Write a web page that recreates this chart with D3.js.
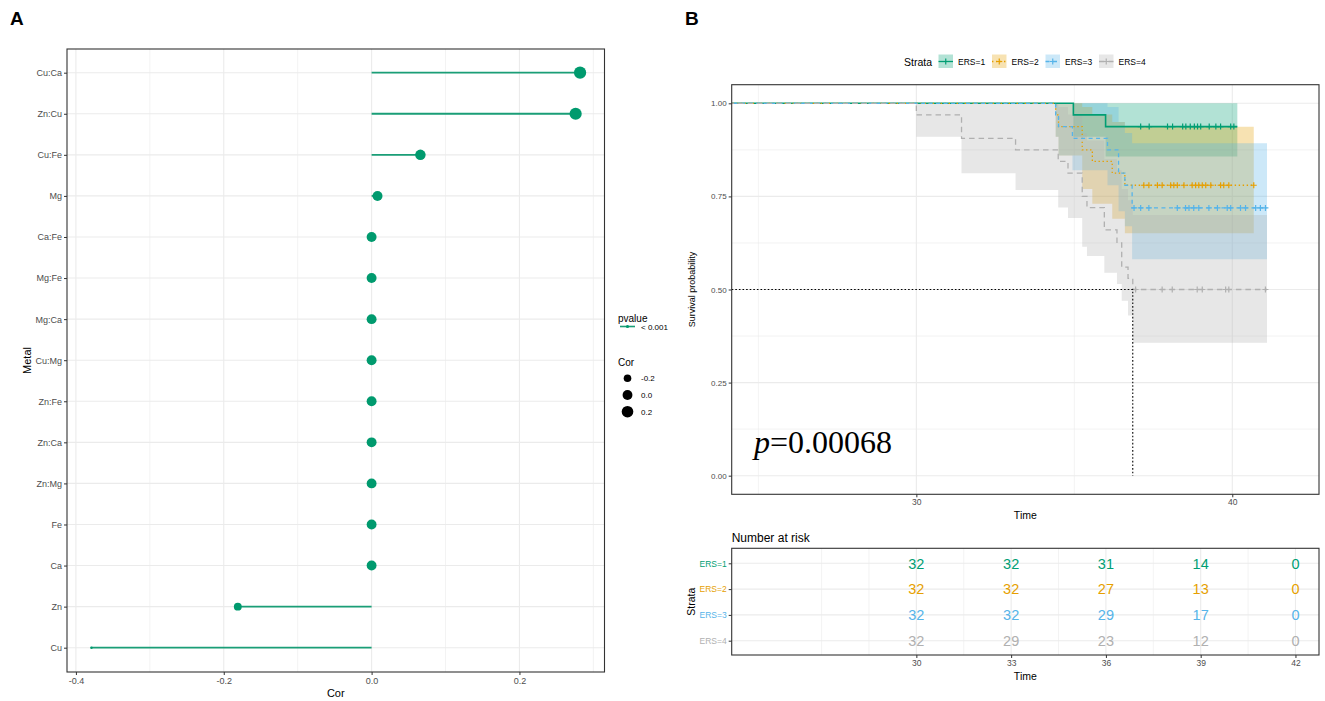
<!DOCTYPE html>
<html>
<head>
<meta charset="utf-8">
<script src="https://cdn.jsdelivr.net/npm/d3@7"></script>
<style>
  body { margin: 0; background: #fff; }
  svg { font-family: "Liberation Sans", Arial, sans-serif; }
</style>
</head>
<body>
<div id="chart"></div>
<script>
// Panel A: correlation lollipop
var metals = ["Cu:Ca", "Zn:Cu", "Cu:Fe", "Mg", "Ca:Fe", "Mg:Fe", "Mg:Ca", "Cu:Mg",
  "Zn:Fe", "Zn:Ca", "Zn:Mg", "Fe", "Ca", "Zn", "Cu"];
var corValues = [0.282, 0.276, 0.066, 0.008, 0, 0, 0, 0, 0, 0, 0, 0, 0, -0.181, -0.379];
var corTicks = [-0.4, -0.2, 0.0, 0.2];
var corMinor = [-0.3, -0.1, 0.1, 0.3];
var sizeBreaks = [-0.2, 0.0, 0.2];

// Panel B: Kaplan-Meier curves per stratum
var strata = ["ERS=1", "ERS=2", "ERS=3", "ERS=4"];
var strataColors = ["#009E73", "#E69F00", "#56B4E9", "#B0B0B0"];
var strataDash = [null, "1.4,2.6", "4,3.5", "5.5,4"];

var ers1Time = [0, 34.97, 35.99];
var ers1Surv = [1, 0.969, 0.9375];
var ers1Lower = [1, 0.91, 0.857];
var ers1Upper = [1, 1, 1];
var ers1Censor = [37.10, 37.37, 37.95, 38.11, 38.43, 38.53, 38.67, 38.80, 38.90, 39.0,
  39.27, 39.48, 39.63, 39.95, 40.05];

var ers2Time = [0, 34.41, 34.5, 35.25, 35.57, 36.2, 36.6];
var ers2Surv = [1, 0.969, 0.9375, 0.875, 0.844, 0.8125, 0.78];
var ers2Lower = [1, 0.91, 0.86, 0.77, 0.73, 0.69, 0.651];
var ers2Upper = [1, 1, 1, 0.99, 0.97, 0.95, 0.937];
var ers2Censor = [37.20, 37.36, 37.63, 37.78, 38.05, 38.15, 38.26, 38.47, 38.73, 38.84,
  38.94, 39.05, 39.16, 39.32, 39.63, 39.73, 39.89, 40.68];

var ers3Time = [0, 34.41, 34.5, 34.94, 36.05, 36.4, 36.6, 36.83];
var ers3Surv = [1, 0.969, 0.9375, 0.906, 0.875, 0.8125, 0.78, 0.719];
var ers3Lower = [1, 0.91, 0.86, 0.82, 0.78, 0.71, 0.67, 0.581];
var ers3Upper = [1, 1, 1, 1, 0.99, 0.95, 0.92, 0.893];
var ers3Censor = [36.89, 37.10, 37.36, 38.26, 38.52, 38.63, 38.78, 38.94, 39.26, 39.53,
  39.84, 39.95, 40.26, 40.42, 40.74, 40.89, 41.05];

var ers4Time = [0, 30.0, 31.43, 33.14, 34.49, 34.8, 35.25, 35.4, 35.95, 36.35, 36.5, 36.7, 36.85];
var ers4Surv = [1, 0.969, 0.906, 0.875, 0.844, 0.8125, 0.75, 0.72, 0.66, 0.625, 0.56, 0.53, 0.5];
var ers4Lower = [1, 0.91, 0.812, 0.767, 0.72, 0.692, 0.615, 0.59, 0.545, 0.515, 0.47, 0.43, 0.357];
var ers4Upper = [1, 1, 1, 1, 0.99, 0.97, 0.92, 0.9, 0.85, 0.82, 0.77, 0.74, 0.70];
var ers4Censor = [36.94, 37.78, 38.1, 38.89, 39.05, 39.79, 39.89, 41.05];

var curveEnds = [40.16, 40.68, 41.1, 41.1];
var timeRange = [25, 41.9];
var medianTime = 36.85;
var survTicks = [0, 0.25, 0.5, 0.75, 1];
var survMinor = [0.125, 0.375, 0.625, 0.875];
var timeTicks = [30, 40];
var timeMinor = [25, 35];

// Number at risk table
var riskTimes = [30, 33, 36, 39, 42];
var riskMinor = [27, 28.5, 31.5, 34.5, 37.5, 40.5];
var risk1 = [32, 32, 31, 14, 0];
var risk2 = [32, 32, 27, 13, 0];
var risk3 = [32, 32, 29, 17, 0];
var risk4 = [32, 29, 23, 12, 0];
var pText = "0.00068";

var GRID = "#EBEBEB";
var BORDER = "#333333";
var TICKTEXT = "#4D4D4D";

var svg = d3.select("#chart").append("svg")
  .attr("width", 1325).attr("height", 701);

var hyphen = function(f) {
  return function(d) { return f(d).replace("\u2212", "-"); };
};

var styleAxis = function(g, fontSize) {
  g.select(".domain").remove();
  g.selectAll(".tick line").attr("stroke", BORDER);
  g.selectAll(".tick text").attr("fill", TICKTEXT).style("font-size", fontSize + "px");
};

var expand = function(ext, f) {
  var r = ext[1] - ext[0];
  return [ext[0] - r * f, ext[1] + r * f];
};

// ---------------- Panel A ----------------
var A = { left: 67, top: 49, right: 604.5, bottom: 672 };

svg.append("text").attr("x", 10).attr("y", 25)
  .style("font-size", "19px").style("font-weight", "bold").text("A");

var xA = d3.scaleLinear()
  .domain(expand(d3.extent(corValues), 0.05))
  .range([A.left, A.right]);

var yA = d3.scalePoint()
  .domain(metals)
  .range([A.top + 23.7, A.bottom - 24.3]);

var sizeT = d3.scaleLinear().domain(d3.extent(corValues)).range([0, 1]).clamp(true);
var sizeMM = d3.scaleLinear().domain([0, 1]).range([1, 6]);
var pointRadius = function(v) {
  var s = sizeMM(Math.sqrt(sizeT(v)));
  return (s * 2.845 + 0.945) * 0.68 / 2;
};

var gA = svg.append("g");

gA.append("g").selectAll("line").data(corMinor.filter(function(d) {
    return xA(d) > A.left && xA(d) < A.right;
  })).enter().append("line")
  .attr("x1", function(d) { return xA(d); }).attr("x2", function(d) { return xA(d); })
  .attr("y1", A.top).attr("y2", A.bottom)
  .attr("stroke", GRID).attr("stroke-width", 0.6);

gA.append("g").selectAll("line").data(corTicks).enter().append("line")
  .attr("x1", function(d) { return xA(d); }).attr("x2", function(d) { return xA(d); })
  .attr("y1", A.top).attr("y2", A.bottom)
  .attr("stroke", GRID).attr("stroke-width", 1.1);

gA.append("g").selectAll("line").data(metals).enter().append("line")
  .attr("x1", A.left).attr("x2", A.right)
  .attr("y1", function(d) { return yA(d); }).attr("y2", function(d) { return yA(d); })
  .attr("stroke", GRID).attr("stroke-width", 1.1);

// segments
gA.append("g").selectAll("line").data(metals).enter().append("line")
  .attr("x1", xA(0))
  .attr("x2", function(d, i) { return xA(corValues[i]); })
  .attr("y1", function(d) { return yA(d); })
  .attr("y2", function(d) { return yA(d); })
  .attr("stroke", "#1A9E77").attr("stroke-width", 1.8);

// points
gA.append("g").selectAll("circle").data(metals).enter().append("circle")
  .attr("cx", function(d, i) { return xA(corValues[i]); })
  .attr("cy", function(d) { return yA(d); })
  .attr("r", function(d, i) { return pointRadius(corValues[i]); })
  .attr("fill", "#009A6E");

gA.append("rect")
  .attr("x", A.left).attr("y", A.top)
  .attr("width", A.right - A.left).attr("height", A.bottom - A.top)
  .attr("fill", "none").attr("stroke", BORDER).attr("stroke-width", 1.1);

gA.append("g").attr("transform", "translate(" + A.left + ",0)")
  .call(d3.axisLeft(yA).tickSize(3).tickPadding(2))
  .call(styleAxis, 9);

gA.append("g").attr("transform", "translate(0," + A.bottom + ")")
  .call(d3.axisBottom(xA).tickValues(corTicks).tickSize(3).tickPadding(3)
    .tickFormat(hyphen(d3.format(".1f"))))
  .call(styleAxis, 9);

gA.append("text")
  .attr("transform", "translate(31," + (A.top + A.bottom) / 2 + ") rotate(-90)")
  .attr("text-anchor", "middle").style("font-size", "11px").text("Metal");

gA.append("text")
  .attr("x", (A.left + A.right) / 2).attr("y", 697)
  .attr("text-anchor", "middle").style("font-size", "11px").text("Cor");

// legends A
var legA = svg.append("g");
legA.append("text").attr("x", 618).attr("y", 322).style("font-size", "10px").text("pvalue");
legA.append("line").attr("x1", 620).attr("x2", 635).attr("y1", 326.5).attr("y2", 326.5)
  .attr("stroke", "#1A9E77").attr("stroke-width", 1.6);
legA.append("circle").attr("cx", 627.5).attr("cy", 326.5).attr("r", 1.6).attr("fill", "#009A6E");
legA.append("text").attr("x", 641).attr("y", 329.5).style("font-size", "8px").text("< 0.001");

legA.append("text").attr("x", 618).attr("y", 366).style("font-size", "10px").text("Cor");
legA.selectAll(".sz").data(sizeBreaks).enter().append("circle")
  .attr("cx", 627.5)
  .attr("cy", function(d, i) { return 378.3 + i * 16.7; })
  .attr("r", function(d) { return pointRadius(d); })
  .attr("fill", "#000");
legA.selectAll(".szl").data(sizeBreaks).enter().append("text")
  .attr("x", 641)
  .attr("y", function(d, i) { return 381.3 + i * 16.7; })
  .style("font-size", "8px")
  .text(hyphen(d3.format(".1f")));

// ---------------- Panel B ----------------
var B = { left: 731.7, top: 84.7, right: 1319, bottom: 494.3 };

svg.append("text").attr("x", 685).attr("y", 25)
  .style("font-size", "19px").style("font-weight", "bold").text("B");

var xB = d3.scaleLinear().domain(expand(timeRange, 0.05)).range([B.left, B.right]);
var yB = d3.scaleLinear().domain([-0.05, 1.05]).range([B.bottom, B.top]);

var gB = svg.append("g");

svg.append("clipPath").attr("id", "clipB").append("rect")
  .attr("x", B.left).attr("y", B.top)
  .attr("width", B.right - B.left).attr("height", B.bottom - B.top);

gB.append("g").selectAll("line").data(timeMinor).enter().append("line")
  .attr("x1", function(d) { return xB(d); }).attr("x2", function(d) { return xB(d); })
  .attr("y1", B.top).attr("y2", B.bottom).attr("stroke", GRID).attr("stroke-width", 0.6);
gB.append("g").selectAll("line").data(survMinor).enter().append("line")
  .attr("x1", B.left).attr("x2", B.right)
  .attr("y1", function(d) { return yB(d); }).attr("y2", function(d) { return yB(d); })
  .attr("stroke", GRID).attr("stroke-width", 0.6);
gB.append("g").selectAll("line").data(timeTicks).enter().append("line")
  .attr("x1", function(d) { return xB(d); }).attr("x2", function(d) { return xB(d); })
  .attr("y1", B.top).attr("y2", B.bottom).attr("stroke", GRID).attr("stroke-width", 1.1);
gB.append("g").selectAll("line").data(survTicks).enter().append("line")
  .attr("x1", B.left).attr("x2", B.right)
  .attr("y1", function(d) { return yB(d); }).attr("y2", function(d) { return yB(d); })
  .attr("stroke", GRID).attr("stroke-width", 1.1);

var curves = [
  { time: ers1Time, surv: ers1Surv, lower: ers1Lower, upper: ers1Upper, censor: ers1Censor },
  { time: ers2Time, surv: ers2Surv, lower: ers2Lower, upper: ers2Upper, censor: ers2Censor },
  { time: ers3Time, surv: ers3Surv, lower: ers3Lower, upper: ers3Upper, censor: ers3Censor },
  { time: ers4Time, surv: ers4Surv, lower: ers4Lower, upper: ers4Upper, censor: ers4Censor }
];

var stepRows = function(c, k) {
  var rows = c.time.map(function(t, i) {
    return { t: t, s: c.surv[i], lo: c.lower[i], hi: c.upper[i] };
  });
  var last = rows[rows.length - 1];
  rows.push({ t: curveEnds[k], s: last.s, lo: last.lo, hi: last.hi });
  return rows;
};

var survAt = function(c, t) {
  var s = c.surv[0];
  c.time.forEach(function(tt, i) { if (tt <= t) s = c.surv[i]; });
  return s;
};

var band = d3.area().curve(d3.curveStepAfter)
  .x(function(d) { return xB(d.t); })
  .y0(function(d) { return yB(d.lo); })
  .y1(function(d) { return yB(d.hi); });

var step = d3.line().curve(d3.curveStepAfter)
  .x(function(d) { return xB(d.t); })
  .y(function(d) { return yB(d.s); });

var plotB = gB.append("g").attr("clip-path", "url(#clipB)");

plotB.append("g").selectAll("path").data(curves).enter().append("path")
  .attr("d", function(d, i) { return band(stepRows(d, i)); })
  .attr("fill", function(d, i) { return strataColors[i]; })
  .attr("fill-opacity", 0.3);

plotB.append("g").selectAll("path").data(curves).enter().append("path")
  .attr("d", function(d, i) { return step(stepRows(d, i)); })
  .attr("fill", "none")
  .attr("stroke", function(d, i) { return strataColors[i]; })
  .attr("stroke-width", function(d, i) { return i === 0 ? 1.6 : 1.3; })
  .attr("stroke-dasharray", function(d, i) { return strataDash[i]; });

curves.forEach(function(c, k) {
  plotB.append("g").selectAll("path").data(c.censor).enter().append("path")
    .attr("transform", function(t) {
      return "translate(" + xB(t) + "," + yB(survAt(c, t)) + ")";
    })
    .attr("d", "M-3,0H3M0,-3V3")
    .attr("stroke", strataColors[k]).attr("stroke-width", 1.2);
});

// median survival
plotB.append("path")
  .attr("d", "M" + B.left + "," + yB(0.5) + "H" + xB(medianTime) + "V" + yB(0))
  .attr("fill", "none").attr("stroke", "#000").attr("stroke-width", 1.1)
  .attr("stroke-dasharray", "1.6,2");

gB.append("text").attr("x", 754).attr("y", 453)
  .style("font-family", "'Liberation Serif', 'Times New Roman', serif")
  .style("font-size", "32px")
  .call(function(t) {
    t.append("tspan").style("font-style", "italic").text("p");
    t.append("tspan").text("=" + pText);
  });

gB.append("rect")
  .attr("x", B.left).attr("y", B.top)
  .attr("width", B.right - B.left).attr("height", B.bottom - B.top)
  .attr("fill", "none").attr("stroke", BORDER).attr("stroke-width", 1.1);

gB.append("g").attr("transform", "translate(" + B.left + ",0)")
  .call(d3.axisLeft(yB).tickValues(survTicks).tickSize(3).tickPadding(2)
    .tickFormat(d3.format(".2f")))
  .call(styleAxis, 8);

gB.append("g").attr("transform", "translate(0," + B.bottom + ")")
  .call(d3.axisBottom(xB).tickValues(timeTicks).tickSize(3).tickPadding(2))
  .call(styleAxis, 8.5);

gB.append("text")
  .attr("transform", "translate(695," + (B.top + B.bottom) / 2 + ") rotate(-90)")
  .attr("text-anchor", "middle").style("font-size", "9px").text("Survival probability");

gB.append("text").attr("x", (B.left + B.right) / 2).attr("y", 519)
  .attr("text-anchor", "middle").style("font-size", "10.5px").text("Time");

// strata legend
var legB = svg.append("g");
legB.append("text").attr("x", 904).attr("y", 66).style("font-size", "10.5px").text("Strata");
var keyG = legB.selectAll(".key").data(strata).enter().append("g")
  .attr("transform", function(d, i) { return "translate(" + (938.5 + i * 53.5) + ",54.5)"; });
keyG.append("rect").attr("width", 14.5).attr("height", 13.5)
  .attr("fill", function(d, i) { return strataColors[i]; }).attr("fill-opacity", 0.3);
keyG.append("line").attr("x1", 0).attr("x2", 14.5).attr("y1", 7).attr("y2", 7)
  .attr("stroke", function(d, i) { return strataColors[i]; })
  .attr("stroke-width", 1.3)
  .attr("stroke-dasharray", function(d, i) { return strataDash[i]; });
keyG.append("path").attr("d", "M4.25,7H10.25M7.25,4V10")
  .attr("stroke", function(d, i) { return strataColors[i]; }).attr("stroke-width", 1.2);
keyG.append("text").attr("x", 19.5).attr("y", 10.5).style("font-size", "8.5px")
  .text(function(d) { return d; });

// ---------------- Risk table ----------------
var R = { left: 731.7, top: 548.3, right: 1319, bottom: 655 };
var riskRows = [risk1, risk2, risk3, risk4];

var yR = d3.scalePoint().domain(strata).range([R.top + 15, R.bottom - 14.3]);
var gR = svg.append("g");

gR.append("text").attr("x", R.left).attr("y", 542).style("font-size", "12px").text("Number at risk");

gR.append("g").selectAll("line").data(riskMinor).enter().append("line")
  .attr("x1", function(d) { return xB(d); }).attr("x2", function(d) { return xB(d); })
  .attr("y1", R.top).attr("y2", R.bottom).attr("stroke", GRID).attr("stroke-width", 0.6);
gR.append("g").selectAll("line").data(riskTimes).enter().append("line")
  .attr("x1", function(d) { return xB(d); }).attr("x2", function(d) { return xB(d); })
  .attr("y1", R.top).attr("y2", R.bottom).attr("stroke", GRID).attr("stroke-width", 1.1);
gR.append("g").selectAll("line").data(strata).enter().append("line")
  .attr("x1", R.left).attr("x2", R.right)
  .attr("y1", function(d) { return yR(d); }).attr("y2", function(d) { return yR(d); })
  .attr("stroke", GRID).attr("stroke-width", 1.1);

riskRows.forEach(function(row, k) {
  gR.append("g").selectAll("text").data(row).enter().append("text")
    .attr("x", function(d, i) { return xB(riskTimes[i]); })
    .attr("y", yR(strata[k]))
    .attr("dy", "0.36em")
    .attr("text-anchor", "middle")
    .attr("fill", strataColors[k])
    .style("font-size", "14.5px")
    .text(function(d) { return d; });
});

gR.append("rect")
  .attr("x", R.left).attr("y", R.top)
  .attr("width", R.right - R.left).attr("height", R.bottom - R.top)
  .attr("fill", "none").attr("stroke", BORDER).attr("stroke-width", 1.1);

gR.append("g").attr("transform", "translate(" + R.left + ",0)")
  .call(d3.axisLeft(yR).tickSize(3).tickPadding(2))
  .call(styleAxis, 8.5)
  .call(function(g) {
    g.selectAll(".tick text").attr("fill", function(d, i) { return strataColors[i]; });
  });

gR.append("g").attr("transform", "translate(0," + R.bottom + ")")
  .call(d3.axisBottom(xB).tickValues(riskTimes).tickSize(3).tickPadding(2))
  .call(styleAxis, 8.5);

gR.append("text")
  .attr("transform", "translate(695," + (R.top + R.bottom) / 2 + ") rotate(-90)")
  .attr("text-anchor", "middle").style("font-size", "10.5px").text("Strata");

gR.append("text").attr("x", (R.left + R.right) / 2).attr("y", 680)
  .attr("text-anchor", "middle").style("font-size", "10.5px").text("Time");
</script>
</body>
</html>
